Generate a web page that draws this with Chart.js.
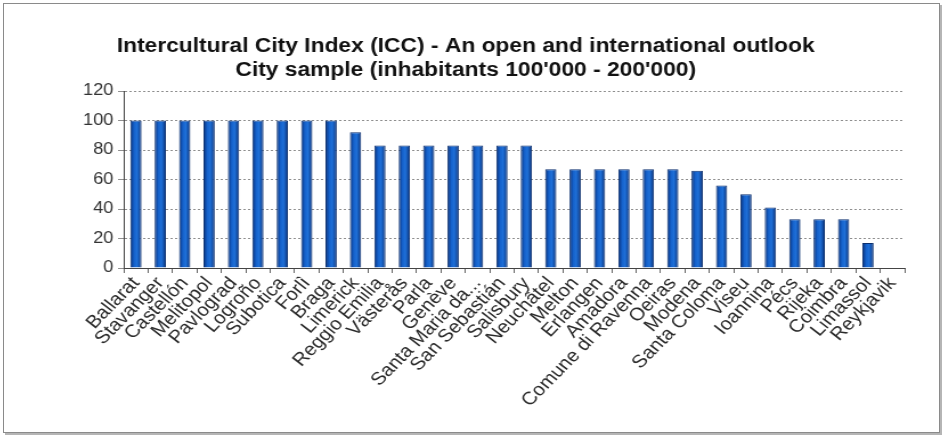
<!DOCTYPE html>
<html>
<head>
<meta charset="utf-8">
<script src="https://cdn.jsdelivr.net/npm/chart.js@4.4.0/dist/chart.umd.min.js"></script>
<style>
  html, body { margin: 0; padding: 0; background: #fff; }
  #frame {
    position: absolute; left: 3px; top: 3px; width: 935px; height: 428px;
    border: 1px solid #8a8a8a; box-shadow: 2px 2px 0 #b5b5b5; background: #fff;
    overflow: hidden;
  }
  /* 画布整体横向拉宽 */
  #chart { display: block; transform: scaleX(1.14); transform-origin: 0 0; }
</style>
</head>
<body>
<div id="frame"><canvas id="chart" width="820" height="428"></canvas></div>
<script>
// 城市与指数
const cities = ['Ballarat', 'Stavanger', 'Castellón', 'Melitopol', 'Pavlograd', 'Logroño', 'Subotica', 'Forlì',
  'Braga', 'Limerick', 'Reggio Emilia', 'Västerås', 'Parla', 'Genève', 'Santa Maria da...', 'San Sebastián',
  'Salisbury', 'Neuchâtel', 'Melton', 'Erlangen', 'Amadora', 'Comune di Ravenna', 'Oeiras', 'Modena',
  'Santa Coloma', 'Viseu', 'Ioannina', 'Pécs', 'Rijeka', 'Coimbra', 'Limassol', 'Reykjavik'];
const indexValues = [100, 100, 100, 100, 100, 100, 100, 100,
  100, 92, 83, 83, 83, 83, 83, 83,
  83, 67, 67, 67, 67, 67, 67, 66,
  56, 50, 41, 33, 33, 33, 17, 0];
const titleLines = ['Intercultural City Index (ICC) - An open and international outlook',
  'City sample (inhabitants 100\'000 - 200\'000)'];
const yTicks = [0, 20, 40, 60, 80, 100, 120];

const BAR_PCT = 0.46;
const FONT = 'Liberation Sans, Arial, sans-serif';

// 柱子横向渐变（圆柱效果）
function barFill(ctx) {
  const chart = ctx.chart;
  const xs = chart.scales && chart.scales.x;
  if (!xs || ctx.dataIndex === undefined) return '#1a62c8';
  const cx = xs.getPixelForValue(ctx.dataIndex);
  const half = xs.width / cities.length * BAR_PCT / 2;
  if (!isFinite(cx) || !isFinite(half) || half <= 0) return '#1a62c8';
  const g = chart.ctx.createLinearGradient(cx - half, 0, cx + half, 0);
  g.addColorStop(0, '#08307a');
  g.addColorStop(0.35, '#1562cc');
  g.addColorStop(0.6, '#1f70d8');
  g.addColorStop(1, '#08307a');
  return g;
}

const ctx = document.getElementById('chart').getContext('2d');
const chart = new Chart(ctx, {
  type: 'bar',
  data: {
    labels: cities,
    datasets: [{
      data: indexValues,
      backgroundColor: barFill,
      borderColor: '#0b2f6e',
      borderWidth: 1,
      barPercentage: BAR_PCT,
      categoryPercentage: 1
    }]
  },
  options: {
    responsive: false,
    animation: false,
    layout: { padding: { top: 30, right: 30, left: 20, bottom: 0 } },
    plugins: {
      legend: { display: false },
      tooltip: { enabled: false },
      title: {
        display: true,
        text: titleLines,
        color: '#111',
        font: { family: FONT, size: 20, weight: 'bold', lineHeight: 1.225 },
        padding: { top: 0, bottom: 8 }
      }
    },
    scales: {
      y: {
        min: 0,
        max: 120,
        afterBuildTicks: (axis) => { axis.ticks = yTicks.map(v => ({ value: v })); },
        afterFit: (axis) => { axis.width = 85; },
        ticks: {
          color: '#333',
          font: { family: FONT, size: 16 },
          padding: 4
        },
        grid: {
          color: '#8f8f8f',
          lineWidth: 1,
          tickLength: 5,
          tickBorderDash: []
        },
        border: { display: true, color: '#444', dash: [2, 2] }
      },
      x: {
        afterFit: (axis) => { axis.height = 164; },
        ticks: {
          color: '#2a2a2a',
          font: { family: FONT, size: 18 },
          autoSkip: false,
          minRotation: 49,
          maxRotation: 49,
          padding: 0
        },
        grid: {
          offset: true,
          drawOnChartArea: false,
          color: '#666',
          tickLength: 5
        },
        border: { display: true, color: '#444' }
      }
    }
  }
});
</script>
</body>
</html>
